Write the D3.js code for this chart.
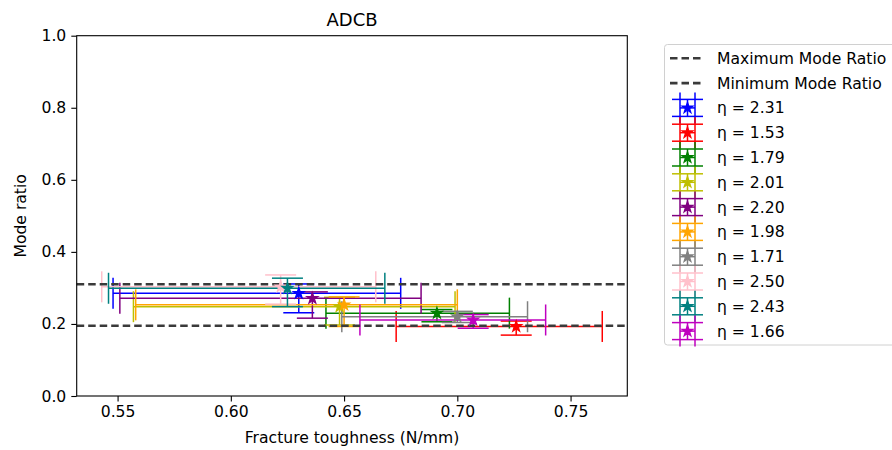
<!DOCTYPE html>
<html>
<head>
<meta charset="utf-8">
<script src="https://cdn.jsdelivr.net/npm/d3@7"></script>
<style>
  body { margin: 0; background: #fff; }
  text { font-family: "DejaVu Sans", sans-serif; fill: #000; }
</style>
</head>
<body>
<svg id="chart" width="892" height="450"></svg>
<script>
// values (mean with min / max)
const etaLabels = ['2.31', '1.53', '1.79', '2.01', '2.20', '1.98', '1.71', '2.50', '2.43', '1.66'];
const seriesColors = ['#0000ff', '#ff0000', '#008000', '#bfbf00', '#800080',
                      '#ffa500', '#808080', '#ffc0cb', '#008080', '#bf00bf'];
const xMean = [0.630, 0.726, 0.691, 0.648, 0.636, 0.650, 0.700, 0.622, 0.625, 0.707];
const xMin  = [0.548, 0.673, 0.642, 0.557, 0.551, 0.558, 0.649, 0.543, 0.546, 0.657];
const xMax  = [0.675, 0.764, 0.723, 0.699, 0.684, 0.700, 0.731, 0.664, 0.668, 0.739];
const yMean = [0.285, 0.193, 0.230, 0.248, 0.271, 0.253, 0.220, 0.303, 0.299, 0.211];
const yMin  = [0.231, 0.169, 0.206, 0.197, 0.216, 0.193, 0.204, 0.255, 0.248, 0.188];
const yMax  = [0.311, 0.208, 0.240, 0.274, 0.289, 0.275, 0.235, 0.336, 0.327, 0.226];

const maxModeRatio = 0.310;
const minModeRatio = 0.195;

const xTicks = [0.55, 0.60, 0.65, 0.70, 0.75];
const yTicks = [0.0, 0.2, 0.4, 0.6, 0.8, 1.0];

const margin = {top: 35.7, left: 76.7, right: 627.3, bottom: 396};
const fontSize = 15.6;
const cap = 15.5;  // half length of the caps
const barWidth = 1.5;

const svg = d3.select('#chart');

// x range padded 5% like matplotlib autoscale
const lo = d3.min(xMin), hi = d3.max(xMax);
const pad = (hi - lo) * 0.05;
const xScale = d3.scaleLinear().domain([lo - pad, hi + pad]).range([margin.left, margin.right]);
const yScale = d3.scaleLinear().domain([0, 1]).range([margin.bottom, margin.top]);

// axes
const xAxis = svg.append('g')
    .attr('transform', `translate(0,${margin.bottom})`)
    .call(d3.axisBottom(xScale).tickValues(xTicks).tickFormat(d3.format('.2f')).tickSize(5.4).tickPadding(5));
const yAxis = svg.append('g')
    .attr('transform', `translate(${margin.left},0)`)
    .call(d3.axisLeft(yScale).tickValues(yTicks).tickFormat(d3.format('.1f')).tickSize(5.4).tickPadding(5));
[xAxis, yAxis].forEach(ax => {
    ax.select('.domain').remove();
    ax.selectAll('.tick line').attr('stroke', '#000').attr('stroke-width', 1.1);
    ax.selectAll('.tick text').style('font-size', fontSize + 'px').attr('fill', '#222');
});

// errorbars (drawn under the markers)
const bars = svg.append('g').attr('fill', 'none').attr('stroke-width', barWidth);
etaLabels.forEach((_, i) => {
    const g = bars.append('g').attr('stroke', seriesColors[i]);
    const cx = xScale(xMean[i]), cy = yScale(yMean[i]);
    const x0 = xScale(xMin[i]), x1 = xScale(xMax[i]);
    const y0 = yScale(yMin[i]), y1 = yScale(yMax[i]);
    // x error
    g.append('line').attr('x1', x0).attr('x2', x1).attr('y1', cy).attr('y2', cy);
    g.append('line').attr('x1', x0).attr('x2', x0).attr('y1', cy - cap).attr('y2', cy + cap);
    g.append('line').attr('x1', x1).attr('x2', x1).attr('y1', cy - cap).attr('y2', cy + cap);
    // y error
    g.append('line').attr('x1', cx).attr('x2', cx).attr('y1', y0).attr('y2', y1);
    g.append('line').attr('x1', cx - cap).attr('x2', cx + cap).attr('y1', y0).attr('y2', y0);
    g.append('line').attr('x1', cx - cap).attr('x2', cx + cap).attr('y1', y1).attr('y2', y1);
});

// max / min mode ratio lines
svg.append('g').selectAll('line')
    .data([maxModeRatio, minModeRatio])
    .join('line')
    .attr('x1', margin.left).attr('x2', margin.right)
    .attr('y1', d => yScale(d)).attr('y2', d => yScale(d))
    .attr('stroke', '#3a3a3a')
    .attr('stroke-width', 2.6)
    .attr('stroke-dasharray', '7.5,4');

// markers
const star = d3.symbol().type(d3.symbolStar).size(38);
svg.append('g').selectAll('path')
    .data(etaLabels)
    .join('path')
    .attr('d', star)
    .attr('transform', (d, i) => `translate(${xScale(xMean[i])},${yScale(yMean[i])})`)
    .attr('fill', (d, i) => seriesColors[i])
    .attr('stroke', (d, i) => seriesColors[i])
    .attr('stroke-width', 1.2)
    .attr('stroke-linejoin', 'miter');

// frame
svg.append('rect')
    .attr('x', margin.left).attr('y', margin.top)
    .attr('width', margin.right - margin.left).attr('height', margin.bottom - margin.top)
    .attr('fill', 'none').attr('stroke', '#000').attr('stroke-width', 1.1);

// title and labels
svg.append('text').attr('x', (margin.left + margin.right) / 2).attr('y', 26)
    .attr('text-anchor', 'middle').style('font-size', '18px').text('ADCB');
svg.append('text').attr('x', (margin.left + margin.right) / 2).attr('y', 443)
    .attr('text-anchor', 'middle').style('font-size', fontSize + 'px').text('Fracture toughness (N/mm)');
svg.append('text')
    .attr('transform', `translate(26,${(margin.top + margin.bottom) / 2}) rotate(-90)`)
    .attr('text-anchor', 'middle').style('font-size', fontSize + 'px').text('Mode ratio');

// legend
const legend = svg.append('g');
legend.append('rect')
    .attr('x', 664.5).attr('y', 44.5).attr('width', 260).attr('height', 300.5).attr('rx', 3)
    .attr('fill', '#fff').attr('stroke', '#d0d0d0');
const rowY = i => 58.3 + i * 24.8;
const textX = 717;
['Maximum Mode Ratio', 'Minimum Mode Ratio'].forEach((lab, i) => {
    legend.append('line')
        .attr('x1', 670).attr('x2', 703).attr('y1', rowY(i)).attr('y2', rowY(i))
        .attr('stroke', '#3a3a3a').attr('stroke-width', 2.6).attr('stroke-dasharray', '7.5,4');
    legend.append('text').attr('x', textX).attr('y', rowY(i)).attr('dy', '0.35em')
        .style('font-size', fontSize + 'px').text(lab);
});
etaLabels.forEach((eta, i) => {
    const cy = rowY(i + 2), cx = 687.5;
    const g = legend.append('g').attr('stroke', seriesColors[i]).attr('stroke-width', barWidth).attr('fill', 'none');
    g.append('line').attr('x1', cx - 7.5).attr('x2', cx + 7.5).attr('y1', cy).attr('y2', cy);
    g.append('line').attr('x1', cx - 7.5).attr('x2', cx - 7.5).attr('y1', cy - cap).attr('y2', cy + cap);
    g.append('line').attr('x1', cx + 7.5).attr('x2', cx + 7.5).attr('y1', cy - cap).attr('y2', cy + cap);
    g.append('line').attr('x1', cx).attr('x2', cx).attr('y1', cy - 8.5).attr('y2', cy + 8.5);
    g.append('line').attr('x1', cx - cap).attr('x2', cx + cap).attr('y1', cy - 8.5).attr('y2', cy - 8.5);
    g.append('line').attr('x1', cx - cap).attr('x2', cx + cap).attr('y1', cy + 8.5).attr('y2', cy + 8.5);
    legend.append('path').attr('d', star)
        .attr('transform', `translate(${cx},${cy})`)
        .attr('fill', seriesColors[i]).attr('stroke', seriesColors[i]).attr('stroke-width', 1.2);
    legend.append('text').attr('x', textX).attr('y', cy).attr('dy', '0.35em')
        .style('font-size', fontSize + 'px').text('η = ' + eta);
});
</script>
</body>
</html>
